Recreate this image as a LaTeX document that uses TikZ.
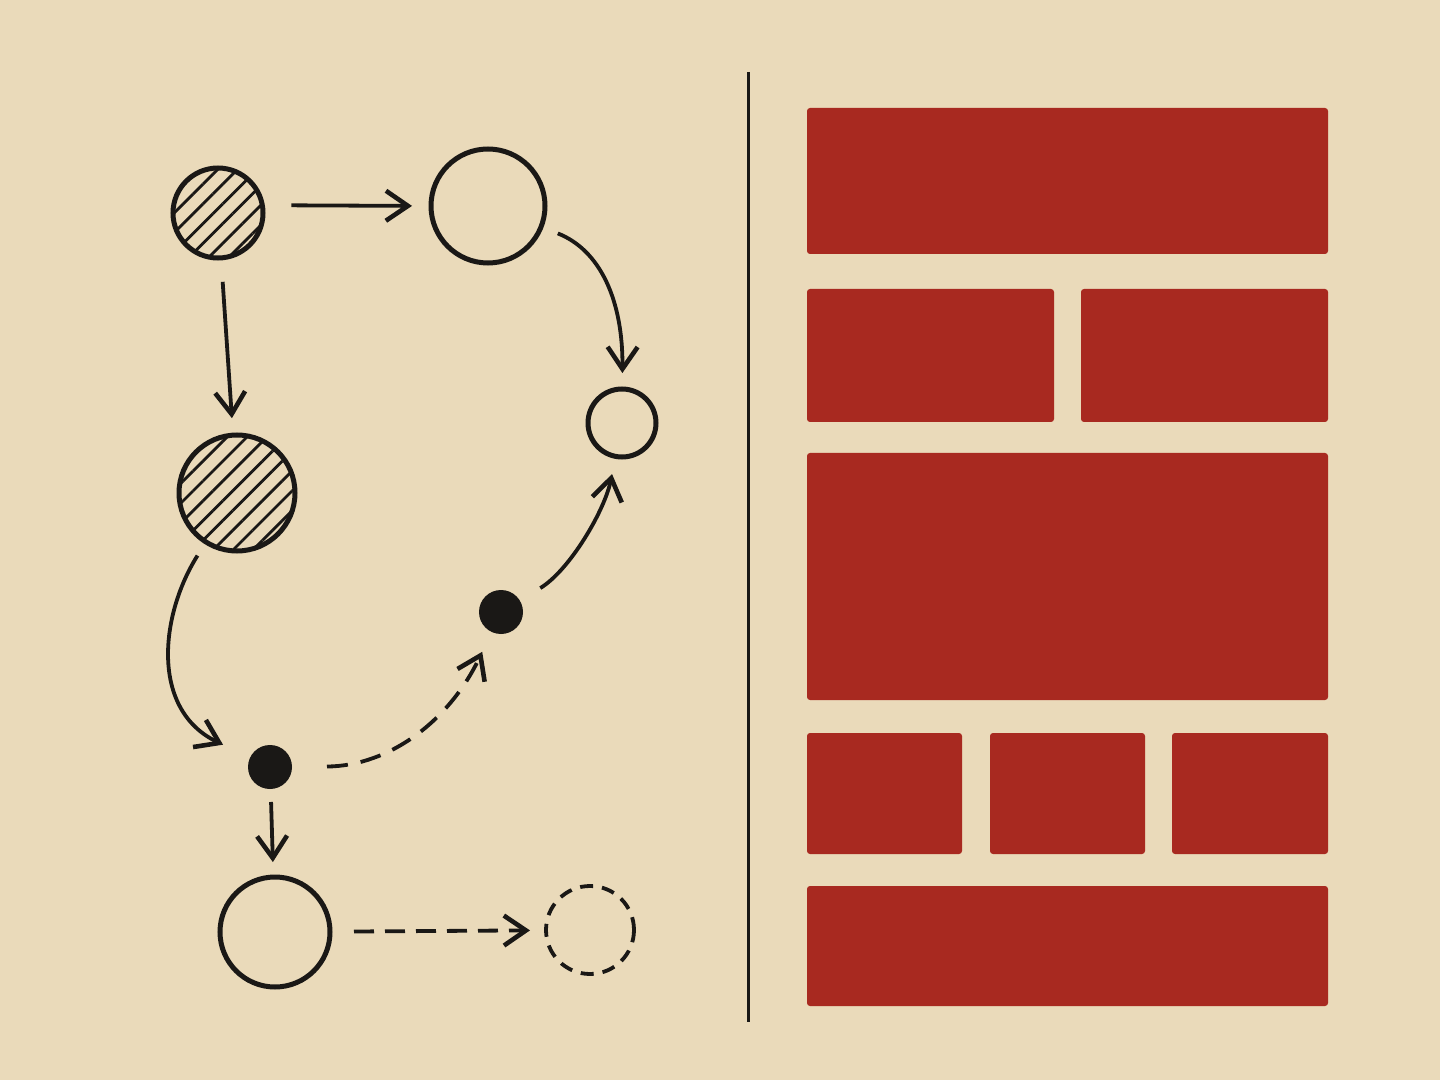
\documentclass[tikz,border=0pt]{standalone}
\usetikzlibrary{arrows.meta,patterns.meta}
\newlength{\du}
\setlength{\du}{0.5pt}
\definecolor{papercolor}{rgb}{0.917647, 0.854902, 0.729412}
\definecolor{inkcolor}{rgb}{0.101961, 0.094118, 0.086275}
\definecolor{blockcolor}{rgb}{0.658824, 0.160784, 0.125490}
\tikzset{
  ring/.style={circle, draw=inkcolor, line width=5\du, inner sep=0pt, outer sep=0pt},
  hatched/.style={ring, pattern={Lines[angle=45,distance=7pt,line width=1.4pt]}, pattern color=inkcolor},
  blot/.style={circle, fill=inkcolor, inner sep=0pt, outer sep=0pt, minimum size=44\du},
  ghost/.style={ring, line width=3.8\du, dash pattern=on 13\du off 9\du},
  flow/.style={draw=inkcolor, line width=3.8\du, -{Straight Barb[length=11pt,width=15pt,line width=2.3pt]}},
  flowdash/.style={flow, dash pattern=on 21\du off 13\du},
  block/.style={fill=blockcolor, rounded corners=3\du}
}
\begin{document}
\begin{tikzpicture}
\pgftransformxscale{1.000000}
\pgftransformyscale{-1.000000}
% paper
\fill[papercolor] (0\du,0\du) rectangle (1440\du,1080\du);
% left: graph
\node[hatched, minimum size=90\du] (nA) at (218\du,213\du) {};
\node[ring, minimum size=114\du] (nB) at (488\du,206\du) {};
\node[ring, minimum size=68\du] (nC) at (622\du,423\du) {};
\node[hatched, minimum size=116\du] (nD) at (237\du,493\du) {};
\node[blot] (nE) at (270\du,767\du) {};
\node[blot] (nF) at (501\du,612\du) {};
\node[ring, minimum size=110\du] (nG) at (275\du,932\du) {};
\node[ghost, minimum size=88\du] (nH) at (590\du,930\du) {};
% arrows
\draw[flow, shorten <=29\du, shorten >=19\du] (nA.10) -- (nB.west);
\draw[flow, shorten <=24\du, shorten >=17\du] (nA) -- (nD);
\draw[flow, shorten <=18\du, shorten >=16\du] (nB) .. controls (600\du,250\du) and (623\du,300\du) .. (nC);
\draw[flow, shorten <=16\du, shorten >=30\du] (nD) .. controls (160\du,615\du) and (150\du,710\du) .. (nE);
\draw[flowdash, shorten <=35\du, shorten >=22\du] (nE) .. controls (390\du,766\du) and (450\du,720\du) .. (nF);
\draw[flow, shorten <=24\du, shorten >=18\du] (nF) .. controls (570\du,570\du) and (605\du,510\du) .. (nC);
\draw[flow, shorten <=13\du, shorten >=15\du] (nE) -- (nG);
\draw[flowdash, dash pattern=on 20\du off 11\du, shorten <=24\du, shorten >=16\du] (nG) -- (nH);
% divider
\draw[inkcolor, line width=3\du] (748\du,72\du) -- (748\du,1022\du);
% right: blocks
\fill[block] (807\du,108\du) rectangle (1328\du,254\du);
\fill[block] (807\du,289\du) rectangle (1054\du,422\du);
\fill[block] (1081\du,289\du) rectangle (1328\du,422\du);
\fill[block] (807\du,453\du) rectangle (1328\du,700\du);
\fill[block] (807\du,733\du) rectangle (962\du,854\du);
\fill[block] (990\du,733\du) rectangle (1145\du,854\du);
\fill[block] (1172\du,733\du) rectangle (1328\du,854\du);
\fill[block] (807\du,886\du) rectangle (1328\du,1006\du);
\end{tikzpicture}
\end{document}
